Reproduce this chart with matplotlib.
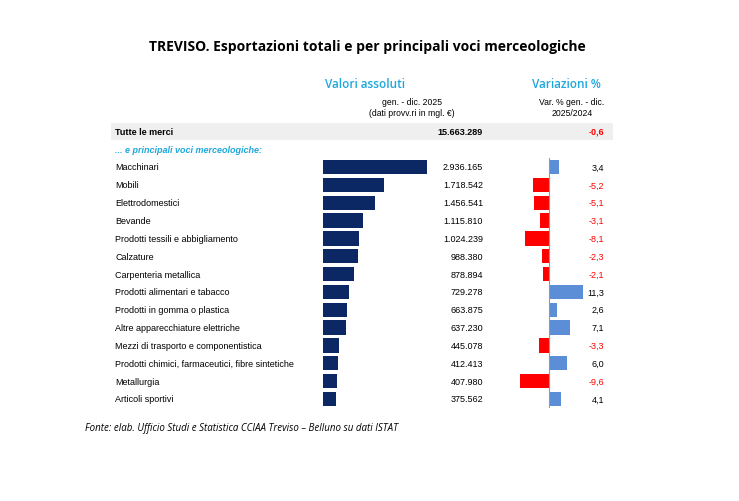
import numpy as np
import matplotlib.pyplot as plt

plt.rcParams['font.family'] = ['Liberation Sans', 'DejaVu Sans']

# Dati
voci = ['Macchinari', 'Mobili', 'Elettrodomestici', 'Bevande',
        'Prodotti tessili e abbigliamento', 'Calzature', 'Carpenteria metallica',
        'Prodotti alimentari e tabacco', 'Prodotti in gomma o plastica',
        'Altre apparecchiature elettriche', 'Mezzi di trasporto e componentistica',
        'Prodotti chimici, farmaceutici, fibre sintetiche', 'Metallurgia',
        'Articoli sportivi']
valori = [2936165, 1718542, 1456541, 1115810, 1024239, 988380, 878894,
          729278, 663875, 637230, 445078, 412413, 407980, 375562]
variazioni = [3.4, -5.2, -5.1, -3.1, -8.1, -2.3, -2.1, 11.3, 2.6, 7.1, -3.3, 6.0, -9.6, 4.1]
totale = 15663289
var_totale = -0.6

W, H = 739, 502
fig = plt.figure(figsize=(W / 100, H / 100), dpi=100)
bg = fig.add_axes([0, 0, 1, 1])
bg.set_xlim(0, W)
bg.set_ylim(H, 0)
bg.axis('off')

def fmt(v):
    return f'{v:,}'.replace(',', '.')

def fmtp(v):
    return f'{v:.1f}'.replace('.', ',')

blu = '#1ea7dc'
bg.text(367, 47, 'TREVISO. Esportazioni totali e per principali voci merceologiche',
        ha='center', va='center', fontsize=10, fontweight='bold', family=['Open Sans', 'DejaVu Sans'])
bg.text(365, 84, 'Valori assoluti', ha='center', va='center', fontsize=8.5, color=blu,
        fontweight='semibold', family=['Open Sans', 'DejaVu Sans'])
bg.text(566, 84, 'Variazioni %', ha='center', va='center', fontsize=8.5, color=blu,
        fontweight='semibold', family=['Open Sans', 'DejaVu Sans'])
bg.text(412, 108, 'gen. - dic. 2025\n(dati provv.ri in mgl. €)', ha='center', va='center',
        fontsize=6.2, linespacing=1.4)
bg.text(572, 108, 'Var. % gen. - dic.\n2025/2024', ha='center', va='center',
        fontsize=6.2, linespacing=1.4)
bg.add_patch(plt.Rectangle((111, 124), 502, 17, color='#efefef', lw=0))
bg.text(115, 132.5, 'Tutte le merci', va='center', fontsize=6.5, fontweight='bold')
bg.text(483, 132.5, fmt(totale), va='center', ha='right', fontsize=6.5, fontweight='bold')
bg.text(604, 132.5, fmtp(var_totale), va='center', ha='right', fontsize=6.5,
        fontweight='bold', color='red')
bg.text(115, 151, '... e principali voci merceologiche:', va='center', fontsize=6.5,
        style='italic', fontweight='bold', color=blu)

y0, step = 168, (400 - 168) / 13
for i, (v, p, n) in enumerate(zip(valori, variazioni, voci)):
    y = y0 + i * step
    bg.text(115, y, n, va='center', fontsize=6.5)
    bg.text(483, y, fmt(v), va='center', ha='right', fontsize=6.5)
    bg.text(604, y, fmtp(p), va='center', ha='right', fontsize=6.5,
            color='red' if p < 0 else 'black')

bg.text(85, 429, 'Fonte: elab. Ufficio Studi e Statistica CCIAA Treviso – Belluno su dati ISTAT',
        va='center', fontsize=7, style='italic', family=['Open Sans', 'DejaVu Sans'])

top = y0 - step / 2
bot = 400 + step / 2
pos = np.arange(len(voci))

# Barre valori assoluti
ax1 = fig.add_axes([323 / W, 1 - bot / H, 104 / W, (bot - top) / H])
ax1.barh(pos, valori, height=0.8, color='#0b2864')
ax1.set_xlim(0, max(valori))
ax1.set_ylim(len(voci) - 0.5, -0.5)
ax1.axis('off')

# Barre variazioni
ax2 = fig.add_axes([519 / W, 1 - bot / H, 75 / W, (bot - top) / H])
ax2.barh(pos, variazioni, height=0.8,
         color=['#ff0000' if p < 0 else '#5b8ed6' for p in variazioni])
ax2.axvline(0, color='#999999', lw=0.8)
ax2.set_xlim(-10, 15)
ax2.set_ylim(len(voci) - 0.5, -0.5)
ax2.axis('off')

fig.savefig('out.png', dpi=100)
